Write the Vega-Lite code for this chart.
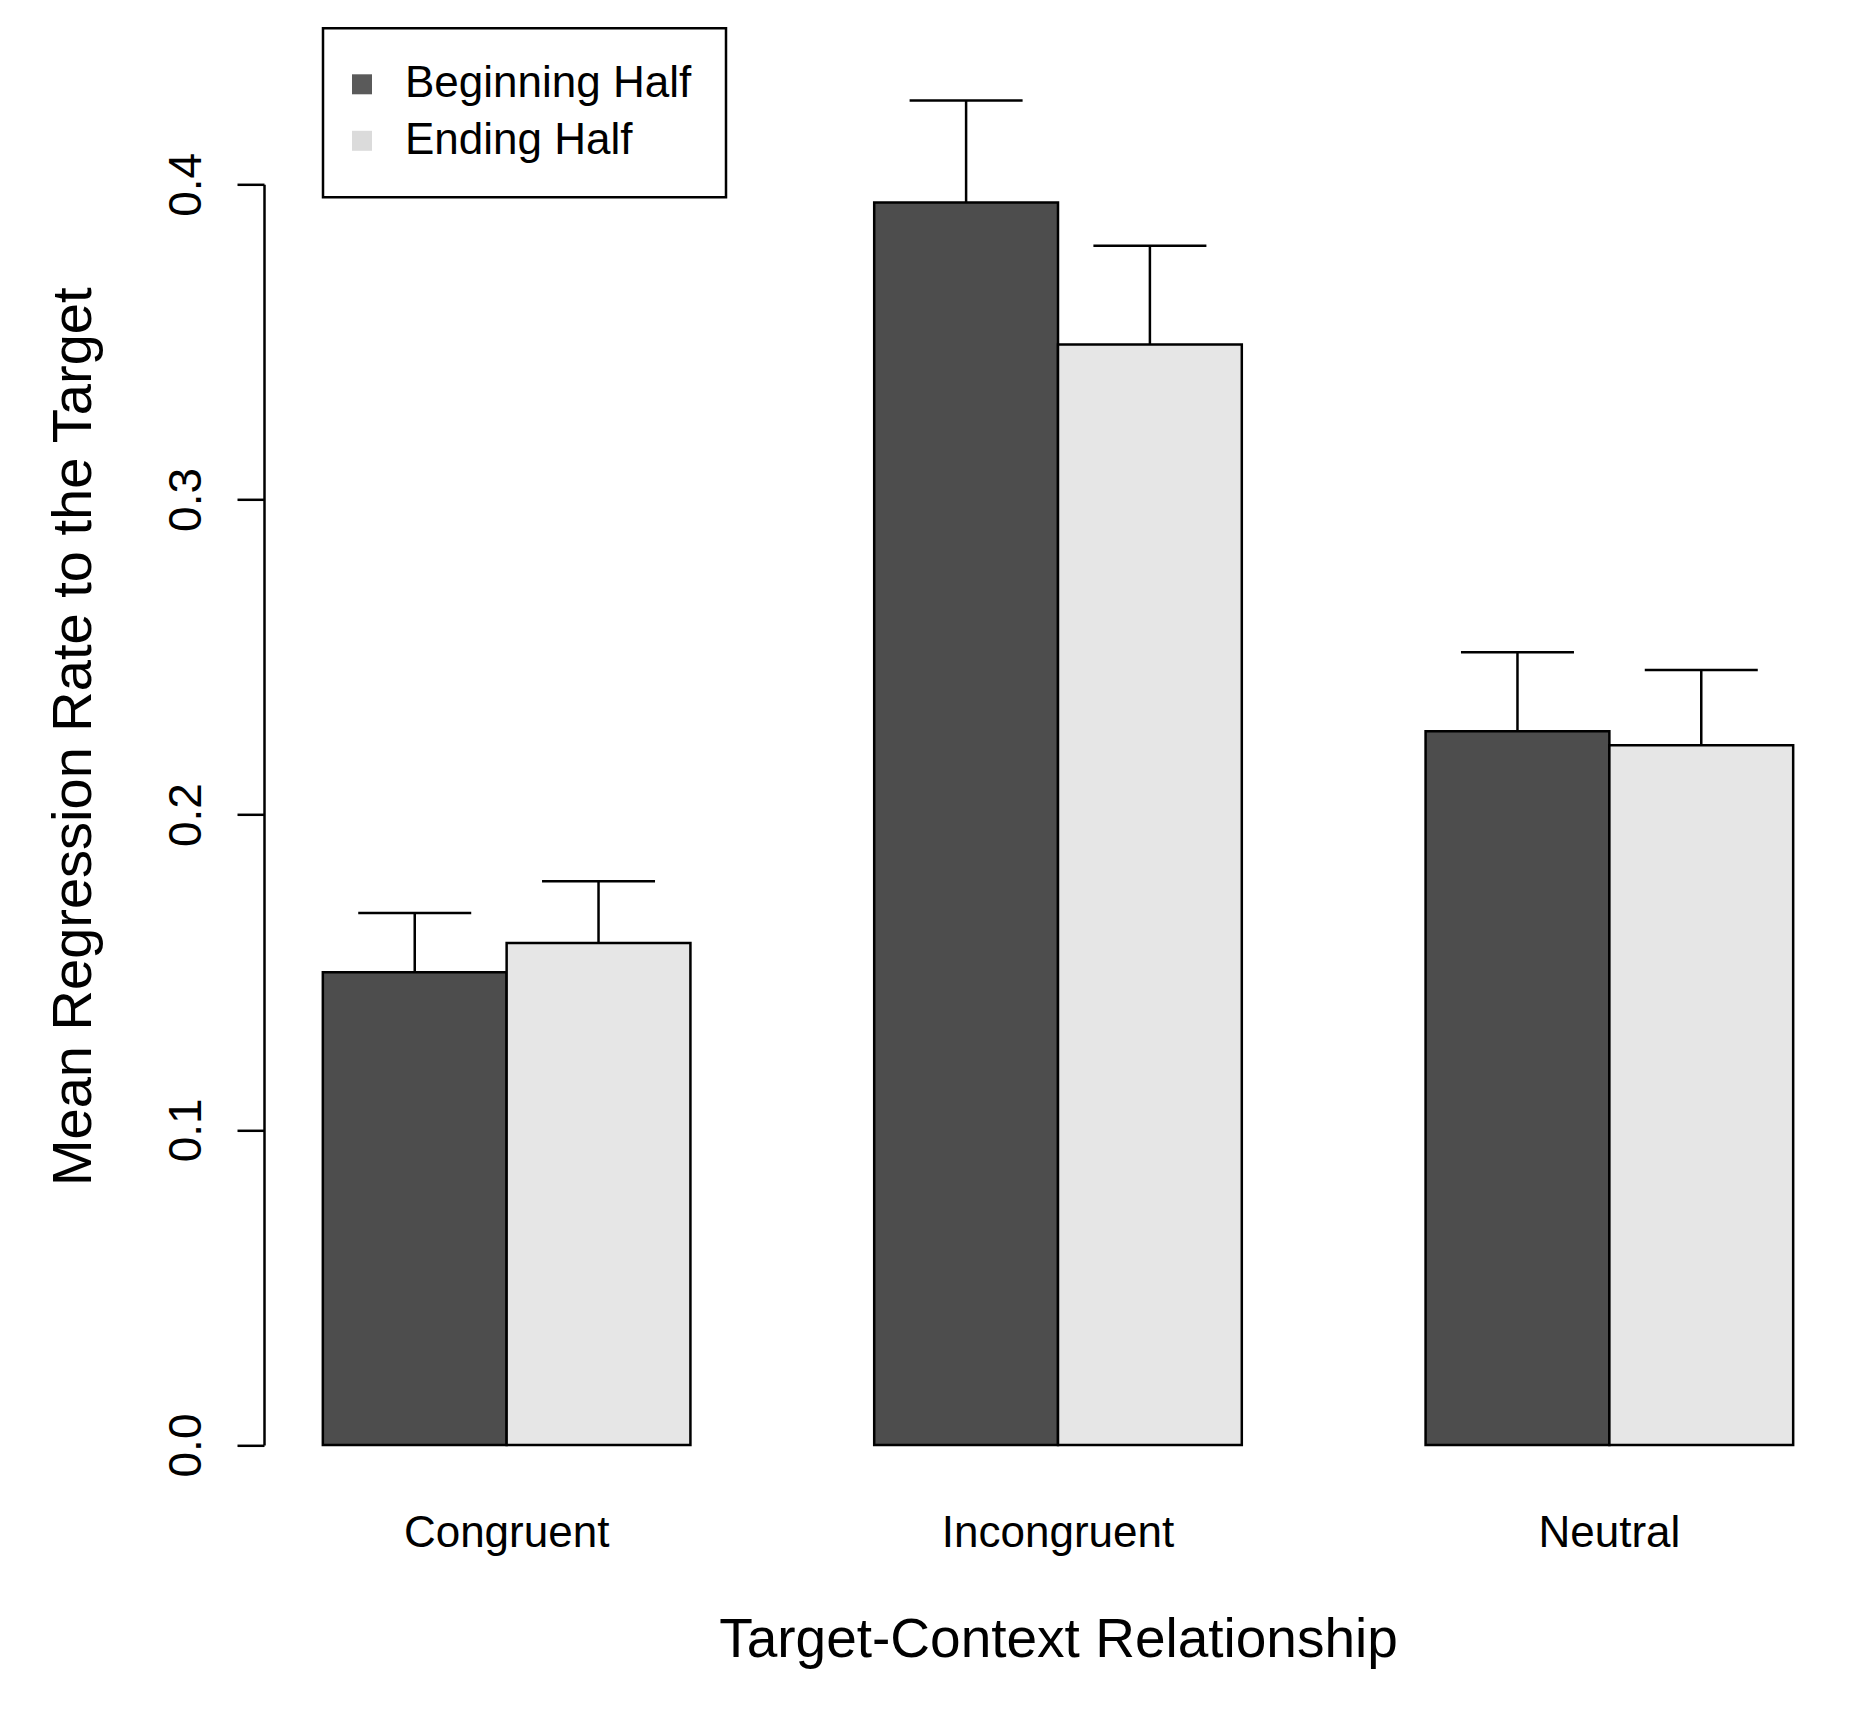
{
  "$schema": "https://vega.github.io/schema/vega-lite/v6.json",
  "width": 1588,
  "height": 1260.7,
  "autosize": "none",
  "padding": {"left": 264, "top": 184.3, "right": 3, "bottom": 264},
  "background": "white",
  "config": {
    "view": {"stroke": null},
    "font": "Liberation Sans",
    "axis": {"grid": false, "labelColor": "black", "titleColor": "black", "titleFontWeight": "normal", "labelLimit": 0},
    "legend": {"strokeWidth": 2.5, "labelLimit": 0}
  },
  "data": {
    "values": [
      {"relationship": "Congruent", "half": "Beginning Half", "rate": 0.150, "upper": 0.1688},
      {"relationship": "Congruent", "half": "Ending Half", "rate": 0.1593, "upper": 0.1789},
      {"relationship": "Incongruent", "half": "Beginning Half", "rate": 0.3942, "upper": 0.4266},
      {"relationship": "Incongruent", "half": "Ending Half", "rate": 0.3492, "upper": 0.3805},
      {"relationship": "Neutral", "half": "Beginning Half", "rate": 0.2265, "upper": 0.2515},
      {"relationship": "Neutral", "half": "Ending Half", "rate": 0.2220, "upper": 0.2459}
    ]
  },
  "encoding": {
    "x": {
      "field": "relationship",
      "type": "nominal",
      "scale": {"paddingInner": 0.3333, "paddingOuter": 0.1067},
      "axis": {
        "title": "Target-Context Relationship",
        "labelAngle": 0,
        "labelLimit": 0,
        "domain": false,
        "ticks": false,
        "tickSize": 0,
        "labelFontSize": 44,
        "labelBaseline": "alphabetic",
        "labelPadding": 101,
        "titleFontSize": 55,
        "titleBaseline": "alphabetic",
        "titleY": 211
      }
    },
    "xOffset": {"field": "half", "type": "nominal", "sort": ["Beginning Half", "Ending Half"]}
  },
  "layer": [
    {
      "transform": [{"filter": "false"}],
      "mark": {"type": "square", "filled": true},
      "encoding": {
        "y": {"field": "rate", "type": "quantitative"},
        "fill": {
          "field": "half",
          "type": "nominal",
          "scale": {"domain": ["Beginning Half", "Ending Half"], "range": ["#141414", "#cccccc"]},
          "legend": {
            "title": null,
            "orient": "none",
            "legendX": 59,
            "legendY": -156,
            "strokeColor": "black",
            "padding": 34,
            "symbolType": "square",
            "symbolSize": 400,
            "symbolStrokeWidth": 0,
            "symbolOffset": -17,
            "labelFontSize": 44,
            "labelLimit": 0,
            "labelColor": "black",
            "labelOffset": 21,
            "rowPadding": 12.5,
            "encode": {
              "legend": {"update": {"strokeWidth": {"value": 2.5}}}
            }
          }
        }
      }
    },
    {
      "mark": {"type": "bar", "stroke": "black", "strokeWidth": 2.5},
      "encoding": {
        "y": {
          "field": "rate",
          "type": "quantitative",
          "scale": {"domain": [0, 0.4], "nice": false},
          "axis": {
            "title": "Mean Regression Rate to the Target",
            "values": [0, 0.1, 0.2, 0.3, 0.4],
            "format": ".1f",
            "domainColor": "black",
            "domainWidth": 2.5,
            "tickColor": "black",
            "tickWidth": 2.5,
            "tickSize": 27,
            "labelFontSize": 46,
            "labelAngle": 270,
            "labelAlign": "center",
            "labelBaseline": "alphabetic",
            "labelPadding": 37,
            "titleFontSize": 56,
            "titleAngle": 270,
            "titleAlign": "center",
            "titleBaseline": "alphabetic",
            "titleX": -174,
            "titleY": 552
          }
        },
        "fill": {
          "field": "half",
          "type": "nominal",
          "scale": {"domain": ["Beginning Half", "Ending Half"], "range": ["#4d4d4d", "#e6e6e6"]},
          "legend": null
        }
      }
    },
    {
      "mark": {"type": "rule", "color": "black", "strokeWidth": 2.5},
      "encoding": {
        "y": {"field": "rate", "type": "quantitative"},
        "y2": {"field": "upper"}
      }
    },
    {
      "mark": {"type": "tick", "color": "black", "size": 113, "thickness": 2.5, "opacity": 1},
      "encoding": {
        "y": {"field": "upper", "type": "quantitative"}
      }
    }
  ],
  "resolve": {"scale": {"fill": "independent"}}
}
